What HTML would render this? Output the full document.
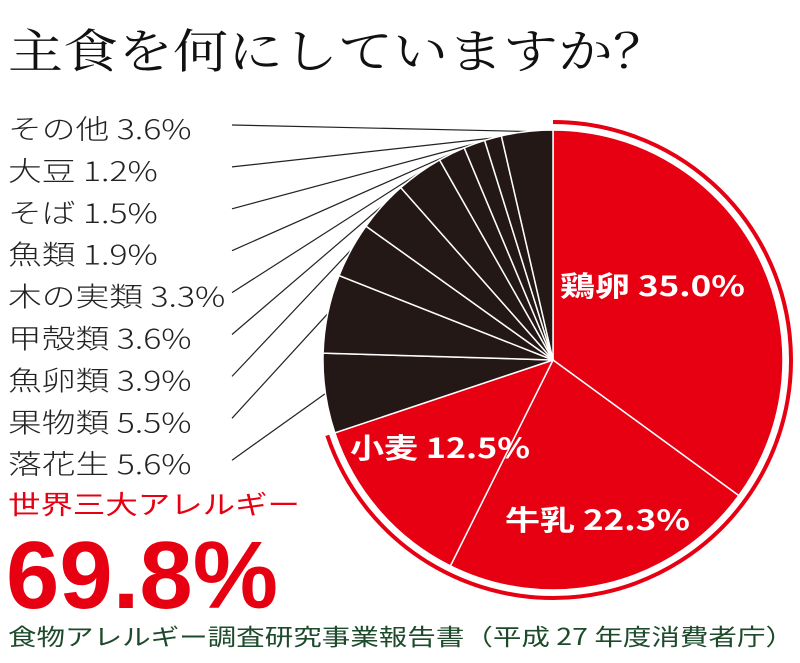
<!DOCTYPE html>
<html><head><meta charset="utf-8"><style>
body{margin:0;background:#fff;width:800px;height:663px;overflow:hidden}
svg{display:block}
</style></head><body>
<svg id="s" width="800" height="663" xmlns="http://www.w3.org/2000/svg">
<text x="8" y="68" font-family="'Noto Serif CJK SC',serif" font-size="47" fill="#111" textLength="660" lengthAdjust="spacingAndGlyphs">主食を何にしていますか？</text>
<g id="pie"></g>
<g id="lab" font-family="'Noto Sans CJK JP',sans-serif" font-size="27" fill="#222" font-weight="300"></g>
<g font-family="'Noto Sans CJK JP',sans-serif" font-weight="bold" fill="#fff" font-size="28">
<text x="560" y="296" textLength="185" lengthAdjust="spacingAndGlyphs">鶏卵 35.0%</text>
<text x="505" y="530" textLength="185" lengthAdjust="spacingAndGlyphs">牛乳 22.3%</text>
<text x="350" y="458" textLength="180" lengthAdjust="spacingAndGlyphs">小麦 12.5%</text>
</g>
<text x="8" y="514" font-family="'Noto Sans CJK JP',sans-serif" font-size="26" fill="#e60012" textLength="292" lengthAdjust="spacingAndGlyphs">世界三大アレルギー</text>
<text x="6" y="608" font-family="'Liberation Sans Narrow','Liberation Sans',sans-serif" font-weight="bold" font-size="96" fill="#e60012" textLength="272" lengthAdjust="spacingAndGlyphs">69.8%</text>
<text x="8" y="645" font-family="'Noto Sans CJK JP',sans-serif" font-size="23" fill="#1c4a2a" textLength="786" lengthAdjust="spacingAndGlyphs">食物アレルギー調査研究事業報告書（平成 27 年度消費者庁）</text>
</svg>
<script>
var cx=553,cy=360,r=230,NS="http://www.w3.org/2000/svg";
var d=[35,22.3,12.5,5.6,5.5,3.9,3.6,3.3,1.9,1.5,1.2,3.6];
var tot=99.9;
function pt(p,rr){var a=p/tot*2*Math.PI;return [cx+rr*Math.sin(a),cy-rr*Math.cos(a)];}
var pie=document.getElementById('pie'),acc=0,mids=[];
d.forEach(function(v,i){var a=pt(acc,r),b=pt(acc+v,r);var large=v/tot>0.5?1:0;
var p=document.createElementNS(NS,'path');
p.setAttribute('d','M'+cx+','+cy+'L'+a[0]+','+a[1]+'A'+r+','+r+' 0 '+large+' 1 '+b[0]+','+b[1]+'Z');
p.setAttribute('fill',i<3?'#e60012':'#231815');p.setAttribute('stroke','#fff');p.setAttribute('stroke-width','1.5');
pie.appendChild(p);mids.push(acc+v/2);acc+=v;});
var a=pt(0,238),b=pt(69.8,238);var arc=document.createElementNS(NS,'path');
arc.setAttribute('d','M'+a[0]+','+a[1]+'A238,238 0 1 1 '+b[0]+','+b[1]);
arc.setAttribute('fill','none');arc.setAttribute('stroke','#e60012');arc.setAttribute('stroke-width','4');pie.appendChild(arc);
var labs=['その他 3.6%','大豆 1.2%','そば 1.5%','魚類 1.9%','木の実類 3.3%','甲殻類 3.6%','魚卵類 3.9%','果物類 5.5%','落花生 5.6%'];
var lab=document.getElementById('lab');
labs.forEach(function(t,i){var y=129+i*41.9;var tx=document.createElementNS(NS,'text');
tx.setAttribute('x',8);tx.setAttribute('y',y+10);tx.textContent=t;lab.appendChild(tx);
var L=tx.getComputedTextLength();tx.setAttribute('textLength',L*1.25);tx.setAttribute('lengthAdjust','spacingAndGlyphs');
var m=mids[11-i];var e=pt(m,230);var ln=document.createElementNS(NS,'line');
ln.setAttribute('x1',232);ln.setAttribute('y1',y-4);ln.setAttribute('x2',e[0]);ln.setAttribute('y2',e[1]);
ln.setAttribute('stroke','#222');ln.setAttribute('stroke-width','1.2');pie.insertBefore(ln,pie.firstChild);});
</script>
</body></html>
